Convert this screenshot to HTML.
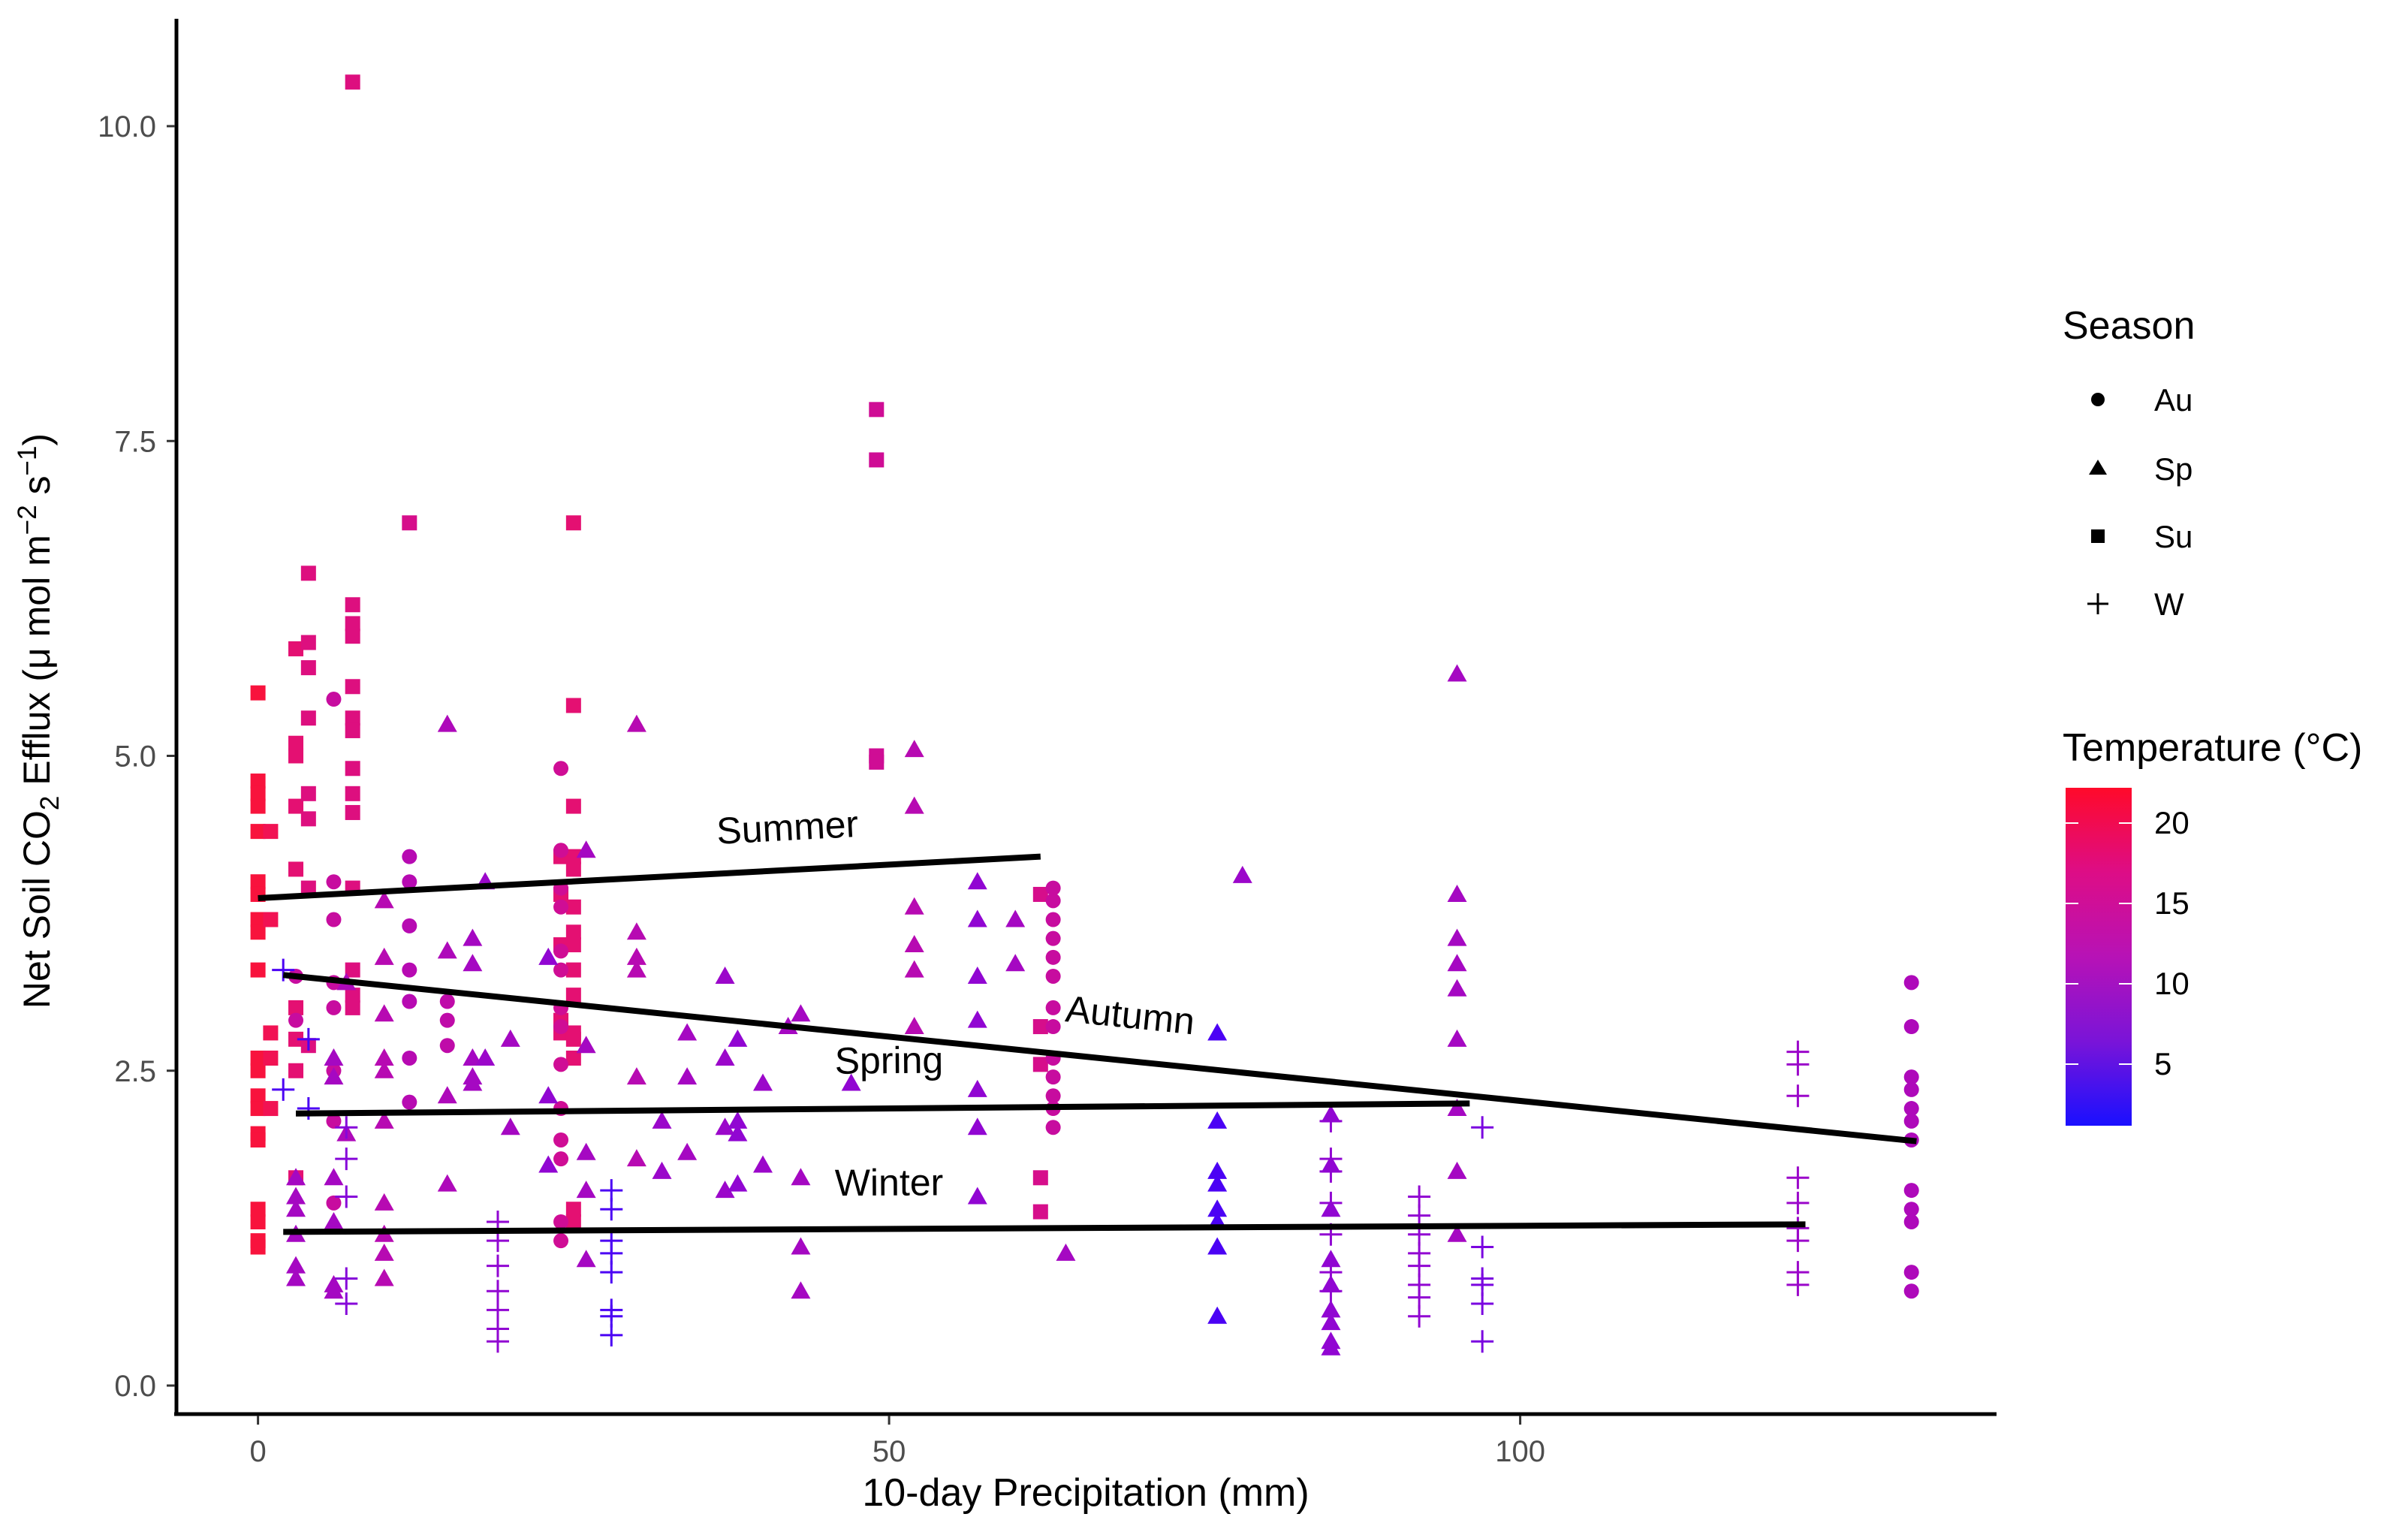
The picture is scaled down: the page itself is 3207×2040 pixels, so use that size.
<!DOCTYPE html>
<html><head><meta charset="utf-8"><style>
html,body{margin:0;padding:0;background:#fff;}
svg{display:block;font-family:"Liberation Sans",sans-serif;}
</style></head><body>
<svg id="chart" width="3207" height="2040" viewBox="0 0 3207 2040" xmlns="http://www.w3.org/2000/svg">
<g id="marks"></g>
<g id="fits"></g>
<g id="axes"></g>
<text transform="translate(66,960) rotate(-90)" text-anchor="middle" font-size="50" fill="#000">Net Soil  CO<tspan font-size="35" dy="12">2</tspan><tspan dy="-12"> Efflux (μ mol m</tspan><tspan font-size="35" dy="-18">−2</tspan><tspan dy="18"> s</tspan><tspan font-size="35" dy="-18">−1</tspan><tspan dy="18">)</tspan></text>
<text x="1446" y="2005" text-anchor="middle" font-size="52" fill="#000">10-day Precipitation (mm)</text>
<g>
<text x="2747" y="451" font-size="52">Season</text>
<circle cx="2794" cy="532" r="9" fill="#000"/>
<text x="2869" y="547" font-size="42">Au</text>
<polygon points="2794,612 2806,632 2782,632" fill="#000"/>
<text x="2869" y="639" font-size="42">Sp</text>
<rect x="2785" y="705" width="18" height="18" fill="#000"/>
<text x="2869" y="729" font-size="42">Su</text>
<path d="M2780,804H2808M2794,790V818" stroke="#000" stroke-width="3"/>
<text x="2869" y="819" font-size="42">W</text>
</g>
<g>
<text x="2747" y="1013" font-size="52">Temperature (°C)</text>
<defs><linearGradient id="tg" x1="0" y1="1" x2="0" y2="0">
<stop offset="0" stop-color="#1a10ff"/><stop offset="0.25" stop-color="#7a14d8"/><stop offset="0.5" stop-color="#b712b6"/><stop offset="0.75" stop-color="#dd0d86"/><stop offset="1" stop-color="#ff0a2a"/></linearGradient></defs>
<rect x="2751" y="1049" width="88" height="450" fill="url(#tg)"/>
<g id="cbticks"></g>
</g>
</svg>
<script>
// ----- data -----
const suPrecip=[0,1,3,4,7.5,7.5,12,24,25,49,62];
const suEfflux=[[5.5,4.8,4.7,4.6,4.4,4.0,3.9,3.7,3.6,3.3,2.6,2.5,2.3,2.2,2.0,1.95,1.4,1.3,1.15,1.1],[4.4,3.7,2.8,2.6,2.2],[5.85,5.1,5.0,4.6,4.1,3.0,2.75,2.5,1.65],[6.45,5.9,5.7,5.3,4.7,4.5,3.95,2.7],[6.2,6.05,5.95,5.55,5.3,5.2,4.9,4.7,4.55,3.95,3.3,3.1,3.0],[10.35],[6.85],[4.2,3.9,3.5,2.9,2.8],[6.85,5.4,4.6,4.2,4.1,3.8,3.6,3.5,3.3,3.1,2.8,2.75,2.6,1.4,1.3],[7.75,7.35,5.0,4.95],[3.9,2.85,2.55,1.65,1.38]];
const suTemp=[21,20,18,17,17,17,16,18,18,15,16];
const auPrecip=[3,6,12,15,24,63,131];
const auEfflux=[[3.25,2.9],[5.45,4.0,3.7,3.2,3.0,2.5,2.1,1.45],[4.2,4.0,3.65,3.3,3.05,2.6,2.25],[3.05,2.9,2.7],[4.9,4.25,3.95,3.8,3.45,3.3,3.0,2.85,2.55,2.2,1.95,1.8,1.3,1.15],[3.95,3.85,3.7,3.55,3.4,3.25,3.0,2.85,2.6,2.45,2.3,2.2,2.05],[3.2,2.85,2.45,2.35,2.2,2.1,1.95,1.55,1.4,1.3,0.9,0.75]];
const auTemp=[14,14,12,13,15,14,11];
const spPrecip=[3,6,7,10,15,17,18,20,23,26,30,32,34,37,38,40,42,43,47,52,57,60,64,76,78,85,95];
const spEfflux=[[1.65,1.5,1.4,1.2,0.95,0.85],[2.6,2.45,1.65,1.3,0.8,0.75],[3.2,2.0],[3.85,3.4,2.95,2.6,2.5,2.1,1.45,1.2,1.05,0.85],[5.25,3.45,2.3,1.6],[3.55,3.35,2.6,2.45,2.4],[4.0,2.6],[2.75,2.05],[3.4,2.3,1.75],[4.25,2.7,1.85,1.55,1.0],[5.25,3.6,3.4,3.3,2.45,1.8],[2.1,1.7],[2.8,2.45,1.85],[3.25,2.6,2.05,1.55],[2.75,2.1,2.0,1.6],[2.4,1.75],[2.85],[2.95,1.65,1.1,0.75],[2.4],[5.05,4.6,3.8,3.5,3.3,2.85],[4.0,3.7,3.25,2.9,2.35,2.05,1.5],[3.7,3.35],[1.05],[2.8,2.1,1.7,1.6,1.4,1.3,1.1,0.55],[4.05],[2.15,1.75,1.4,1.0,0.8,0.6,0.5,0.35,0.3],[5.65,3.9,3.55,3.35,3.15,2.75,2.2,1.7,1.2]];
const spTemp=[10,10,11,12,11,10,9,10,8,10,12,9,10,9,8,9,10,10,8,12,8,10,10,3,9,8,10];
const wPrecip=[2,4,7,19,28,85,92,97,122];
const wEfflux=[[3.3,2.35],[2.75,2.2],[2.05,1.8,1.5,0.85,0.65],[1.3,1.15,0.95,0.75,0.6,0.45,0.35],[1.55,1.4,1.15,1.05,0.9,0.6,0.55,0.4],[2.1,1.8,1.7,1.45,1.2,0.9,0.75],[1.5,1.35,1.2,1.05,0.95,0.8,0.7,0.55],[2.05,1.1,0.85,0.8,0.65,0.35],[2.65,2.55,2.3,1.65,1.45,1.25,1.15,0.9,0.8]];
const wTemp=[3,3,7,8,3,8,8,6,9];
const fitNames=["Summer","Autumn","Spring","Winter"];
const fitX0=[0,2,3,2];
const fitX1=[62,131.4,96,122.6];
const fitY0=[3.87,3.26,2.16,1.22];
const fitY1=[4.2,1.94,2.24,1.28];
const xTicks=[0,50,100];
const yTicks=[0,2.5,5,7.5,10];
const yTickLabels=["0.0","2.5","5.0","7.5","10.0"];
const cbTicks=[5,10,15,20];

// ----- scales -----
const NS="http://www.w3.org/2000/svg";
const sx=v=>343.6+v*16.81;
const sy=v=>1845-v*167.7;
const st=t=>1524-t*21.4;
function col(t){let f=Math.max(0,Math.min(1,(t-1.2)/21));
 const r=Math.round(255*Math.pow(f,0.5)),b=Math.round(255*Math.pow(1-f,0.5)),g=Math.round(20*f);
 return `rgb(${r},${g},${b})`;}
function mk(tag,attrs,parent){const e=document.createElementNS(NS,tag);for(const k in attrs)e.setAttribute(k,attrs[k]);parent.appendChild(e);return e;}
const marks=document.getElementById('marks');
function drawSeason(px,ey,tp,shape){
 px.forEach((x,i)=>{ey[i].forEach(y=>{
  const cx=sx(x),cy=sy(y),c=col(tp[i]);let e;
  if(shape==='circle'){e=mk('circle',{cx:cx,cy:cy,r:10,fill:c},marks);}
  else if(shape==='tri'){e=mk('polygon',{points:`${cx},${cy-13} ${cx+13},${cy+10} ${cx-13},${cy+10}`,fill:c},marks);}
  else if(shape==='sq'){e=mk('rect',{x:cx-10,y:cy-10,width:20,height:20,fill:c},marks);}
  else{e=mk('path',{d:`M${cx-15},${cy}H${cx+15}M${cx},${cy-15}V${cy+15}`,stroke:c,'stroke-width':3,fill:'none'},marks);}
  
 });});
}
drawSeason(suPrecip,suEfflux,suTemp,'sq');
drawSeason(auPrecip,auEfflux,auTemp,'circle');
drawSeason(spPrecip,spEfflux,spTemp,'tri');
drawSeason(wPrecip,wEfflux,wTemp,'plus');

const fits=document.getElementById('fits');
fitNames.forEach((n,i)=>{
 const x0=sx(fitX0[i]),y0=sy(fitY0[i]),x1=sx(fitX1[i]),y1=sy(fitY1[i]);
 const l=mk('line',{x1:x0,y1:y0,x2:x1,y2:y1,stroke:'#000','stroke-width':8},fits);
 
 
 const ang=Math.atan2(y1-y0,x1-x0)*180/Math.PI;
 let lx,ly;
 if(n==="Summer"){lx=sx(42);ly=sy(4.33);}
 else if(n==="Autumn"){lx=sx(69);ly=sy(2.84);}
 else if(n==="Spring"){lx=sx(50);ly=sy(2.48);}
 else {lx=sx(50);ly=sy(1.51);}
 const t=mk('text',{x:lx,y:ly,'text-anchor':'middle','font-size':50,transform:`rotate(${ang} ${lx} ${ly})`},fits);
 t.textContent=n;
 
 
});

const axes=document.getElementById('axes');
let a=mk('line',{x1:235,y1:25,x2:235,y2:1885,stroke:'#000','stroke-width':5},axes);


a=mk('line',{x1:232,y1:1883,x2:2659,y2:1883,stroke:'#000','stroke-width':5},axes);


xTicks.forEach(v=>{
 const t=mk('line',{x1:sx(v),y1:1885,x2:sx(v),y2:1897,stroke:'#333','stroke-width':3},axes);
 
 
 const l=mk('text',{x:sx(v),y:1946,'text-anchor':'middle','font-size':40,fill:'#4d4d4d'},axes);
 l.textContent=String(v);
 
 
});
yTicks.forEach((v,i)=>{
 const t=mk('line',{x1:222,y1:sy(v),x2:233,y2:sy(v),stroke:'#333','stroke-width':3},axes);
 
 
 const l=mk('text',{x:208,y:sy(v)+14,'text-anchor':'end','font-size':40,fill:'#4d4d4d'},axes);
 l.textContent=yTickLabels[i];
 
 
});
const cbt=document.getElementById('cbticks');
cbTicks.forEach(v=>{
 const y=st(v);
 const t=mk('path',{d:`M2751,${y}H2768M2822,${y}H2839`,stroke:'#fff','stroke-width':2},cbt);
 
 
 const l=mk('text',{x:2869,y:y+14,'font-size':42,fill:'#000'},cbt);
 l.textContent=String(v);
 
 
});
</script>
</body></html>
